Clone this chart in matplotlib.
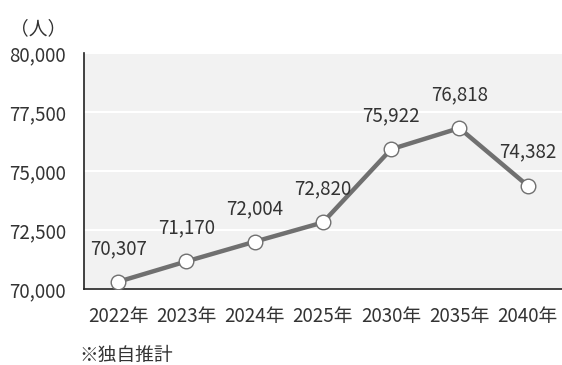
import matplotlib
matplotlib.use("Agg")
import matplotlib.pyplot as plt
from matplotlib.ticker import FuncFormatter

plt.rcParams['font.family'] = ['Noto Sans CJK JP', 'DejaVu Sans']

years = ["2022年", "2023年", "2024年", "2025年", "2030年", "2035年", "2040年"]
population = [70307, 71170, 72004, 72820, 75922, 76818, 74382]
y_ticks = [70000, 72500, 75000, 77500, 80000]

FS = 13.5
TXT = "#333333"

fig = plt.figure(figsize=(5.62, 3.65), dpi=100)
ax = fig.add_axes([0.1495, 0.2082, 0.850, 0.6466])
ax.set_facecolor("#f2f2f2")

x = list(range(len(years)))
ax.plot(x, population, color="#707070", lw=3.2, zorder=3,
        marker="o", markersize=10.5, markerfacecolor="white",
        markeredgecolor="#707070", markeredgewidth=1.0)

for i, v in enumerate(population):
    ax.annotate(f"{v:,}", (i, v), xytext=(0, 24), textcoords="offset points",
                ha="center", va="center", fontsize=FS, color=TXT)

ax.set_xlim(-0.5, len(years) - 0.5)
ax.set_ylim(70000, 80000)
ax.set_yticks(y_ticks)
ax.yaxis.set_major_formatter(FuncFormatter(lambda v, p: f"{int(v):,}"))
ax.set_xticks(x)
ax.set_xticklabels(years)
ax.grid(axis="y", color="white", lw=1.5)
ax.set_axisbelow(True)
ax.tick_params(length=0, labelsize=FS, labelcolor=TXT)
ax.tick_params(axis="x", pad=12)
ax.tick_params(axis="y", pad=13)
for s in ["top", "right"]:
    ax.spines[s].set_visible(False)
for s in ["left", "bottom"]:
    ax.spines[s].set_color("#222222")
    ax.spines[s].set_linewidth(1.2)

fig.text(0.117, 0.92, "（人）", ha="right", va="center", fontsize=FS, color=TXT)
fig.text(0.142, 0.025, "※独自推計", ha="left", va="center", fontsize=FS, color=TXT)

fig.savefig("out.png", dpi=100)
